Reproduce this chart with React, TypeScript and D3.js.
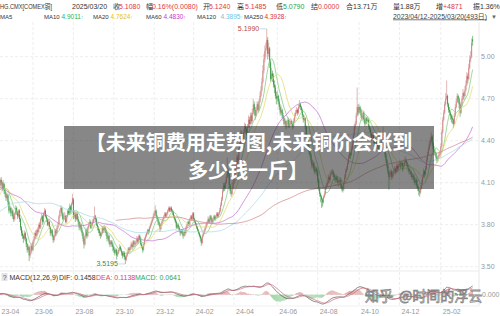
import React from "react";
import * as d3 from "d3";

const W = 500;
const H = 316;

// daily closes before the first visible candle (warm-up for MA / MACD)
const historyCloses = [
  3.43, 3.41, 3.40, 3.42, 3.38, 3.40, 3.43, 3.44, 3.42, 3.45, 3.47, 3.50, 3.48, 3.44, 3.46, 3.40, 3.38, 3.39,
  3.42, 3.36, 3.55, 3.62, 3.65, 3.60, 3.68, 3.80, 3.86, 3.78, 3.74, 3.70, 3.64, 3.62, 3.64, 3.66, 3.62, 3.58, 3.60, 3.70, 3.78,
  3.82, 3.86, 3.84, 3.78, 3.82, 3.86, 3.88, 3.90, 3.84, 3.80, 3.76, 3.80, 3.78, 3.82, 3.80, 3.78, 3.82, 3.84, 3.82, 3.80, 3.81,
  3.74, 3.70, 3.78, 3.82, 3.90, 3.98, 4.02, 4.06, 4.14, 4.20, 4.24, 4.22, 4.28, 4.25, 4.22, 4.24, 4.28, 4.26, 4.20, 4.18,
  4.12, 4.08, 4.04, 4.06, 4.04, 4.02, 4.08, 4.06, 4.10, 4.04, 4.00, 4.02, 4.06, 4.10, 4.12, 4.08, 4.02, 4.00, 4.06,
  4.10, 4.05, 4.08, 4.04, 4.02, 4.00, 4.02, 3.96, 3.94, 3.88, 3.86, 3.90, 3.92, 3.96, 3.90, 3.94, 4.00, 4.04, 4.08, 4.10, 4.08, 4.06, 4.10,
  4.06, 4.02, 3.98, 4.04, 4.00, 4.05,
];

// visible candles, one array per month: [open, high, low, close]
const apr23 = [[4.05,4.10,4.03,4.08],[4.08,4.13,4.06,4.12],[4.12,4.14,4.08,4.10],[4.10,4.11,4.04,4.06],[4.06,4.12,4.05,4.10],[4.09,4.10,4.02,4.04],[4.04,4.06,4.00,4.02],[4.02,4.03,3.97,3.99],[3.99,4.03,3.98,4.01],[4.01,4.02,3.94,3.96],[3.96,3.97,3.88,3.90],[3.90,3.94,3.89,3.92],[3.92,3.93,3.86,3.88]];
const may23 = [[3.88,3.92,3.86,3.90],[3.90,3.91,3.84,3.86],[3.86,3.88,3.82,3.84],[3.84,3.89,3.83,3.88],[3.88,3.94,3.87,3.92],[3.92,3.93,3.87,3.89],[3.89,3.90,3.84,3.86],[3.86,3.91,3.85,3.90],[3.90,3.91,3.82,3.84],[3.84,3.85,3.76,3.78],[3.78,3.79,3.72,3.74],[3.74,3.76,3.70,3.72],[3.72,3.73,3.67,3.70],[3.70,3.76,3.69,3.74],[3.74,3.75,3.68,3.70],[3.70,3.71,3.64,3.66],[3.66,3.67,3.60,3.62],[3.62,3.66,3.61,3.64],[3.64,3.65,3.54,3.58],[3.58,3.62,3.56,3.60],[3.60,3.66,3.59,3.65],[3.65,3.67,3.61,3.62]];
const jun23 = [[3.62,3.69,3.61,3.68],[3.68,3.72,3.66,3.70],[3.70,3.75,3.69,3.74],[3.74,3.76,3.70,3.72],[3.72,3.77,3.71,3.76],[3.76,3.78,3.73,3.75],[3.75,3.81,3.74,3.80],[3.80,3.82,3.77,3.78],[3.78,3.85,3.77,3.84],[3.84,3.88,3.83,3.86],[3.86,3.87,3.80,3.82],[3.82,3.89,3.81,3.88],[3.88,3.92,3.86,3.90],[3.90,3.91,3.85,3.86],[3.86,3.87,3.82,3.84],[3.84,3.85,3.79,3.80],[3.80,3.84,3.79,3.82],[3.82,3.83,3.77,3.78],[3.78,3.79,3.72,3.74],[3.74,3.77,3.73,3.76],[3.76,3.77,3.71,3.72],[3.72,3.73,3.67,3.69]];
const jul23 = [[3.69,3.73,3.68,3.72],[3.72,3.77,3.71,3.76],[3.76,3.77,3.72,3.74],[3.74,3.79,3.73,3.78],[3.78,3.82,3.77,3.80],[3.80,3.87,3.79,3.86],[3.86,3.91,3.85,3.90],[3.90,3.94,3.89,3.92],[3.92,3.93,3.86,3.88],[3.88,3.89,3.83,3.84],[3.84,3.88,3.83,3.86],[3.86,3.89,3.84,3.86],[3.86,3.87,3.81,3.82],[3.82,3.87,3.81,3.86],[3.86,3.91,3.85,3.90],[3.90,3.92,3.87,3.88],[3.88,3.95,3.87,3.93],[3.93,3.94,3.88,3.90],[3.90,3.96,3.89,3.95],[3.95,4.02,3.94,3.99]];
const aug23 = [[3.98,3.99,3.84,3.86],[3.86,3.90,3.85,3.88],[3.88,3.89,3.82,3.84],[3.84,3.89,3.83,3.88],[3.88,3.89,3.83,3.84],[3.84,3.86,3.80,3.82],[3.82,3.83,3.76,3.78],[3.78,3.82,3.77,3.80],[3.80,3.81,3.75,3.76],[3.76,3.78,3.72,3.74],[3.74,3.75,3.68,3.70],[3.70,3.71,3.63,3.66],[3.66,3.73,3.65,3.72],[3.72,3.78,3.71,3.76],[3.76,3.77,3.70,3.72],[3.72,3.79,3.71,3.78],[3.78,3.82,3.77,3.80],[3.80,3.84,3.79,3.82],[3.82,3.83,3.77,3.78],[3.78,3.81,3.77,3.80],[3.80,3.84,3.79,3.82],[3.82,3.86,3.81,3.84],[3.84,3.93,3.83,3.86]];
const sep23 = [[3.86,3.87,3.82,3.84],[3.84,3.85,3.79,3.80],[3.80,3.81,3.76,3.78],[3.78,3.79,3.74,3.76],[3.76,3.77,3.72,3.74],[3.74,3.75,3.70,3.72],[3.72,3.75,3.71,3.74],[3.74,3.79,3.73,3.78],[3.78,3.79,3.74,3.76],[3.76,3.80,3.75,3.78],[3.78,3.79,3.74,3.76],[3.76,3.77,3.72,3.74],[3.74,3.75,3.68,3.70],[3.70,3.73,3.69,3.72],[3.72,3.73,3.66,3.68],[3.68,3.69,3.64,3.66],[3.66,3.69,3.65,3.68],[3.68,3.69,3.64,3.66],[3.66,3.67,3.61,3.64]];
const oct23 = [[3.64,3.65,3.60,3.62],[3.62,3.63,3.58,3.60],[3.60,3.63,3.59,3.62],[3.62,3.63,3.55,3.58],[3.58,3.61,3.57,3.60],[3.60,3.63,3.59,3.62],[3.62,3.66,3.61,3.64],[3.64,3.65,3.61,3.62],[3.62,3.63,3.58,3.60],[3.60,3.61,3.56,3.58],[3.58,3.61,3.57,3.60],[3.60,3.61,3.55,3.57],[3.57,3.58,3.5195,3.55],[3.55,3.59,3.54,3.58],[3.58,3.61,3.57,3.60],[3.60,3.64,3.59,3.63],[3.63,3.64,3.60,3.62],[3.62,3.65,3.61,3.64],[3.64,3.68,3.63,3.66],[3.66,3.67,3.62,3.64],[3.64,3.69,3.63,3.68],[3.68,3.69,3.64,3.66]];
const nov23 = [[3.66,3.68,3.64,3.66],[3.66,3.69,3.65,3.68],[3.68,3.72,3.67,3.70],[3.70,3.71,3.66,3.68],[3.68,3.73,3.67,3.72],[3.72,3.73,3.69,3.70],[3.70,3.71,3.65,3.66],[3.66,3.67,3.63,3.64],[3.64,3.65,3.60,3.62],[3.62,3.67,3.61,3.66],[3.66,3.71,3.65,3.70],[3.70,3.73,3.69,3.72],[3.72,3.75,3.71,3.74],[3.74,3.77,3.73,3.76],[3.76,3.77,3.73,3.75],[3.75,3.79,3.74,3.78],[3.78,3.81,3.77,3.80],[3.80,3.83,3.79,3.82],[3.82,3.85,3.81,3.84],[3.84,3.88,3.83,3.86]];
const dec23 = [[3.86,3.90,3.85,3.88],[3.88,3.94,3.87,3.90],[3.90,3.91,3.85,3.86],[3.86,3.87,3.83,3.84],[3.84,3.85,3.80,3.82],[3.82,3.83,3.79,3.80],[3.80,3.81,3.75,3.77],[3.77,3.81,3.76,3.80],[3.80,3.83,3.79,3.82],[3.82,3.85,3.81,3.84],[3.84,3.87,3.83,3.86],[3.86,3.89,3.85,3.88],[3.88,3.89,3.85,3.86],[3.86,3.89,3.85,3.88],[3.88,3.91,3.87,3.90],[3.90,3.93,3.89,3.92],[3.92,3.93,3.89,3.90],[3.90,3.93,3.89,3.92],[3.92,3.93,3.89,3.90],[3.90,3.91,3.87,3.89]];
const jan24 = [[3.89,3.90,3.85,3.86],[3.86,3.87,3.83,3.84],[3.84,3.85,3.81,3.82],[3.82,3.83,3.77,3.78],[3.78,3.81,3.77,3.80],[3.80,3.81,3.77,3.78],[3.78,3.79,3.75,3.76],[3.76,3.77,3.72,3.74],[3.74,3.77,3.73,3.76],[3.76,3.77,3.73,3.74],[3.74,3.75,3.70,3.72],[3.72,3.76,3.71,3.75],[3.75,3.76,3.72,3.74],[3.74,3.79,3.73,3.78],[3.78,3.81,3.77,3.80],[3.80,3.83,3.79,3.82],[3.82,3.83,3.79,3.80],[3.80,3.85,3.79,3.84],[3.84,3.87,3.83,3.86],[3.86,3.87,3.83,3.84],[3.84,3.89,3.83,3.88]];
const feb24 = [[3.88,3.89,3.83,3.84],[3.84,3.85,3.81,3.82],[3.82,3.83,3.79,3.80],[3.80,3.81,3.77,3.78],[3.78,3.79,3.75,3.76],[3.76,3.77,3.73,3.74],[3.74,3.75,3.71,3.72],[3.72,3.73,3.68,3.70],[3.70,3.71,3.65,3.67],[3.67,3.73,3.66,3.72],[3.72,3.75,3.71,3.74],[3.74,3.77,3.73,3.76],[3.76,3.79,3.75,3.78],[3.78,3.81,3.77,3.80],[3.80,3.83,3.79,3.82],[3.82,3.86,3.81,3.84],[3.84,3.85,3.81,3.82],[3.82,3.87,3.81,3.86],[3.86,3.87,3.83,3.84],[3.84,3.85,3.81,3.82],[3.82,3.85,3.81,3.84]];
const mar24 = [[3.84,3.87,3.83,3.86],[3.86,3.87,3.83,3.84],[3.84,3.87,3.83,3.86],[3.86,3.89,3.85,3.88],[3.88,3.89,3.85,3.86],[3.86,3.89,3.85,3.88],[3.88,3.92,3.87,3.90],[3.90,3.96,3.89,3.94],[3.94,4.00,3.93,3.98],[3.98,4.06,3.97,4.04],[4.04,4.10,4.03,4.08],[4.08,4.10,4.04,4.06],[4.06,4.12,4.05,4.10],[4.10,4.16,4.09,4.14],[4.14,4.28,4.13,4.18],[4.18,4.20,4.14,4.16],[4.16,4.17,4.06,4.08],[4.08,4.09,4.02,4.04],[4.04,4.06,4.00,4.02],[4.02,4.08,4.01,4.06],[4.06,4.12,4.05,4.10]];
const apr24 = [[4.10,4.16,4.09,4.14],[4.14,4.20,4.13,4.18],[4.18,4.24,4.17,4.22],[4.22,4.30,4.21,4.28],[4.28,4.30,4.23,4.26],[4.26,4.36,4.25,4.34],[4.34,4.40,4.33,4.38],[4.38,4.48,4.37,4.45],[4.45,4.47,4.38,4.40],[4.40,4.44,4.38,4.42],[4.42,4.48,4.41,4.46],[4.46,4.53,4.45,4.50],[4.50,4.52,4.45,4.48],[4.48,4.50,4.41,4.44],[4.44,4.52,4.43,4.50],[4.50,4.58,4.49,4.55],[4.55,4.57,4.49,4.52],[4.52,4.60,4.51,4.58],[4.58,4.60,4.52,4.54],[4.54,4.63,4.53,4.60],[4.60,4.70,4.59,4.66],[4.66,4.68,4.58,4.62]];
const may24 = [[4.62,4.64,4.55,4.58],[4.58,4.64,4.57,4.62],[4.62,4.68,4.61,4.66],[4.66,4.68,4.60,4.62],[4.62,4.70,4.61,4.68],[4.68,4.75,4.67,4.72],[4.72,4.79,4.71,4.76],[4.76,4.85,4.75,4.82],[4.82,4.94,4.81,4.90],[4.90,5.02,4.88,4.98],[4.98,5.08,4.96,5.04],[5.04,5.10,5.00,5.06],[5.06,5.199,5.05,5.12],[5.12,5.14,4.98,5.02],[5.02,5.10,5.00,5.06],[5.06,5.07,4.92,4.96],[4.96,4.98,4.82,4.84],[4.84,4.92,4.83,4.88],[4.88,4.90,4.82,4.86],[4.86,4.88,4.78,4.80],[4.80,4.83,4.74,4.78],[4.78,4.80,4.70,4.72],[4.72,4.75,4.66,4.70]];
const jun24 = [[4.70,4.76,4.68,4.72],[4.72,4.73,4.66,4.68],[4.68,4.70,4.62,4.64],[4.64,4.66,4.58,4.60],[4.60,4.65,4.59,4.62],[4.62,4.63,4.56,4.58],[4.58,4.60,4.54,4.56],[4.56,4.57,4.50,4.52],[4.52,4.56,4.51,4.54],[4.54,4.55,4.48,4.50],[4.50,4.54,4.49,4.52],[4.52,4.57,4.51,4.55],[4.55,4.56,4.49,4.50],[4.50,4.54,4.49,4.52],[4.52,4.56,4.51,4.54],[4.54,4.55,4.50,4.52],[4.52,4.53,4.48,4.50],[4.50,4.56,4.49,4.54],[4.54,4.60,4.53,4.58],[4.58,4.62,4.57,4.60]];
const jul24 = [[4.60,4.64,4.59,4.62],[4.62,4.63,4.58,4.60],[4.60,4.66,4.59,4.64],[4.64,4.69,4.63,4.66],[4.66,4.67,4.62,4.64],[4.64,4.65,4.60,4.62],[4.62,4.63,4.56,4.58],[4.58,4.59,4.53,4.55],[4.55,4.58,4.54,4.56],[4.56,4.57,4.48,4.50],[4.50,4.51,4.42,4.44],[4.44,4.45,4.38,4.40],[4.40,4.41,4.34,4.36],[4.36,4.37,4.30,4.32],[4.32,4.34,4.28,4.30],[4.30,4.31,4.24,4.26],[4.26,4.27,4.20,4.22],[4.22,4.26,4.21,4.24],[4.24,4.25,4.18,4.20],[4.20,4.22,4.16,4.18],[4.18,4.22,4.17,4.20],[4.20,4.21,4.15,4.18]];
const aug24 = [[4.18,4.19,4.10,4.12],[4.12,4.13,4.04,4.06],[4.06,4.07,4.00,4.02],[4.02,4.03,3.96,4.00],[4.00,4.01,3.92,3.98],[3.98,3.99,3.93,3.96],[3.96,4.01,3.95,4.00],[4.00,4.04,3.99,4.02],[4.02,4.08,4.01,4.06],[4.06,4.10,4.05,4.08],[4.08,4.12,4.07,4.10],[4.10,4.16,4.09,4.14],[4.14,4.15,4.10,4.12],[4.12,4.18,4.11,4.16],[4.16,4.19,4.15,4.17],[4.17,4.20,4.16,4.18],[4.18,4.19,4.14,4.16],[4.16,4.17,4.12,4.14],[4.14,4.15,4.10,4.12],[4.12,4.16,4.11,4.14],[4.14,4.15,4.10,4.12],[4.12,4.13,4.08,4.10]];
const sep24 = [[4.10,4.12,4.07,4.10],[4.10,4.14,4.09,4.12],[4.12,4.13,4.06,4.08],[4.08,4.09,4.04,4.06],[4.06,4.08,4.03,4.05],[4.05,4.11,4.04,4.10],[4.10,4.16,4.09,4.14],[4.14,4.20,4.13,4.18],[4.18,4.22,4.17,4.20],[4.20,4.26,4.19,4.24],[4.24,4.30,4.23,4.28],[4.28,4.33,4.27,4.31],[4.31,4.32,4.27,4.30],[4.30,4.36,4.29,4.34],[4.34,4.40,4.33,4.38],[4.38,4.46,4.37,4.44],[4.44,4.52,4.43,4.50],[4.50,4.54,4.48,4.52],[4.52,4.60,4.51,4.58],[4.58,4.78,4.57,4.64],[4.64,4.66,4.58,4.60]];
const oct24 = [[4.60,4.66,4.59,4.64],[4.64,4.65,4.60,4.62],[4.62,4.63,4.56,4.58],[4.58,4.59,4.54,4.56],[4.56,4.62,4.55,4.60],[4.60,4.61,4.53,4.55],[4.55,4.56,4.50,4.52],[4.52,4.58,4.51,4.56],[4.56,4.57,4.52,4.54],[4.54,4.57,4.53,4.55],[4.55,4.56,4.48,4.50],[4.50,4.51,4.46,4.48],[4.48,4.49,4.43,4.45],[4.45,4.46,4.40,4.42],[4.42,4.46,4.41,4.44],[4.44,4.45,4.38,4.40],[4.40,4.41,4.36,4.38],[4.38,4.42,4.37,4.40],[4.40,4.41,4.36,4.38],[4.38,4.39,4.34,4.36],[4.36,4.37,4.32,4.34],[4.34,4.38,4.33,4.36],[4.36,4.37,4.33,4.35]];
const nov24 = [[4.35,4.40,4.34,4.38],[4.38,4.44,4.37,4.42],[4.42,4.50,4.41,4.45],[4.45,4.46,4.34,4.36],[4.36,4.37,4.28,4.30],[4.30,4.31,4.24,4.26],[4.26,4.27,4.20,4.22],[4.22,4.23,4.16,4.18],[4.18,4.19,4.05,4.14],[4.14,4.18,4.12,4.16],[4.16,4.20,4.15,4.18],[4.18,4.19,4.12,4.14],[4.14,4.18,4.13,4.16],[4.16,4.20,4.15,4.18],[4.18,4.22,4.17,4.20],[4.20,4.21,4.16,4.18],[4.18,4.24,4.17,4.22],[4.22,4.23,4.18,4.20],[4.20,4.24,4.19,4.22]];
const dec24 = [[4.22,4.26,4.21,4.24],[4.24,4.25,4.20,4.22],[4.22,4.26,4.21,4.24],[4.24,4.25,4.18,4.20],[4.20,4.24,4.19,4.22],[4.22,4.27,4.21,4.25],[4.25,4.29,4.24,4.26],[4.26,4.27,4.22,4.24],[4.24,4.25,4.20,4.22],[4.22,4.23,4.18,4.20],[4.20,4.21,4.16,4.18],[4.18,4.20,4.16,4.18],[4.18,4.19,4.14,4.16],[4.16,4.17,4.12,4.14],[4.14,4.17,4.13,4.15],[4.15,4.16,4.10,4.12],[4.12,4.13,4.08,4.10],[4.10,4.14,4.09,4.12],[4.12,4.13,4.06,4.08],[4.08,4.09,4.04,4.06],[4.06,4.07,4.01,4.04]];
const jan25 = [[4.04,4.06,4.00,4.03],[4.03,4.08,4.02,4.06],[4.06,4.12,4.05,4.10],[4.10,4.16,4.09,4.14],[4.14,4.20,4.13,4.18],[4.18,4.19,4.14,4.16],[4.16,4.22,4.15,4.20],[4.20,4.28,4.19,4.26],[4.26,4.32,4.25,4.30],[4.30,4.36,4.29,4.34],[4.34,4.40,4.33,4.38],[4.38,4.42,4.36,4.40],[4.40,4.46,4.39,4.43],[4.43,4.44,4.36,4.38],[4.38,4.39,4.32,4.34],[4.34,4.36,4.30,4.32],[4.32,4.34,4.29,4.31],[4.31,4.32,4.26,4.28],[4.28,4.29,4.24,4.26],[4.26,4.30,4.25,4.28],[4.28,4.32,4.27,4.30],[4.30,4.33,4.29,4.31]];
const feb25 = [[4.31,4.38,4.28,4.36],[4.36,4.48,4.35,4.46],[4.46,4.57,4.45,4.55],[4.55,4.62,4.54,4.60],[4.60,4.68,4.59,4.66],[4.66,4.74,4.65,4.70],[4.70,4.83,4.69,4.72],[4.72,4.73,4.64,4.66],[4.66,4.67,4.60,4.62],[4.62,4.64,4.58,4.60],[4.60,4.61,4.55,4.58],[4.58,4.59,4.53,4.56],[4.56,4.58,4.52,4.55],[4.55,4.56,4.49,4.52],[4.52,4.60,4.51,4.58],[4.58,4.66,4.57,4.64],[4.64,4.70,4.63,4.68],[4.68,4.74,4.67,4.72],[4.72,4.73,4.67,4.70],[4.70,4.71,4.63,4.66]];
const mar25 = [[4.66,4.67,4.57,4.60],[4.60,4.68,4.59,4.66],[4.66,4.72,4.65,4.70],[4.70,4.77,4.69,4.74],[4.74,4.75,4.69,4.72],[4.72,4.79,4.71,4.76],[4.76,4.83,4.75,4.80],[4.80,4.89,4.79,4.86],[4.86,4.88,4.81,4.84],[4.84,4.95,4.83,4.92],[4.92,5.01,4.91,4.98],[4.98,5.04,4.96,5.00],[5.00,5.13,4.99,5.10],[5.124,5.1485,5.079,5.108]];

const monthData = [apr23, may23, jun23, jul23, aug23, sep23, oct23, nov23, dec23, jan24, feb24, mar24,
  apr24, may24, jun24, jul24, aug24, sep24, oct24, nov24, dec24, jan25, feb25, mar25];
const monthLabels = ["23-04", "23-05", "23-06", "23-07", "23-08", "23-09", "23-10", "23-11", "23-12", "24-01", "24-02", "24-03",
  "24-04", "24-05", "24-06", "24-07", "24-08", "24-09", "24-10", "24-11", "24-12", "25-01", "25-02", "25-03"];
const priceTicks = [5.0, 4.7, 4.4, 4.1, 3.8, 3.5];
const maPeriods = [10, 20, 60, 120, 250];
const maColors = ["#86cf86", "#e6dc72", "#c77ad2", "#a8dcec", "#d48c8c"];

const header1 = [
  { t: "2025/03/20", x: 72, c: "#333" },
  { t: "收", x: 113, c: "#333" }, { t: "5.1080", x: 119, c: "#e0393e" },
  { t: "幅", x: 146, c: "#333" }, { t: "0.16%(0.0080)", x: 152, c: "#e0393e" },
  { t: "开", x: 203, c: "#333" }, { t: "5.1240", x: 209, c: "#e0393e" },
  { t: "高", x: 237, c: "#333" }, { t: "5.1485", x: 245, c: "#e0393e" },
  { t: "低", x: 276, c: "#333" }, { t: "5.0790", x: 283, c: "#2e9e44" },
  { t: "结", x: 311, c: "#333" }, { t: "0.0000", x: 318, c: "#e0393e" },
  { t: "合13.71万", x: 346, c: "#333" },
  { t: "量1.88万", x: 393, c: "#333" },
  { t: "增", x: 436, c: "#333" }, { t: "+4871", x: 443, c: "#e0393e" },
  { t: "振1.36%", x: 473, c: "#333" },
];
const header2Names = [
  { t: "MA5", x: 0 },
  { t: "MA10", x: 44 },
  { t: "MA20", x: 93 },
  { t: "MA60", x: 146 },
  { t: "MA120", x: 197 },
  { t: "MA250", x: 244 },
];
const header2Values = [
  { t: "4.9011", x: 61.5, c: "#2fb24a" },
  { t: "4.7624", x: 110.5, c: "#e0c21c" },
  { t: "4.4830", x: 163.5, c: "#c43cc8" },
  { t: "4.3895", x: 220.5, c: "#6cc4e4" },
  { t: "4.3928", x: 264.5, c: "#d8343a" },
];

function ema(values: number[], n: number) {
  const k = 2 / (n + 1);
  const out: number[] = [];
  let prev = values[0];
  values.forEach((v, i) => {
    prev = i === 0 ? v : v * k + prev * (1 - k);
    out.push(prev);
  });
  return out;
}

const FONT = "'Liberation Sans', 'Noto Sans CJK SC', sans-serif";
const CJK = "'Noto Sans CJK SC', sans-serif";

export default function App() {
  const candles = monthData.flat() as number[][];
  const n = candles.length;
  const offset = historyCloses.length;
  const allCloses = historyCloses.concat(candles.map((c) => c[3]));

  const monthStarts: number[] = [];
  let acc = 0;
  monthData.forEach((m) => { monthStarts.push(acc); acc += m.length; });

  const x = d3.scaleLinear().domain([0, n - 1]).range([-0.67, 472.6]);
  const y = d3.scaleLinear().domain([3.5, 5.0]).range([266.7, 56.7]);

  const mas = maPeriods.map((p) =>
    candles.map((_, i) => {
      const j = i + offset;
      if (j < p - 1) return null;
      return d3.mean(allCloses.slice(j - p + 1, j + 1)) as number;
    })
  );
  const maLine = d3.line<number | null>()
    .defined((d) => d !== null)
    .x((_, i) => x(i))
    .y((d) => y(d as number));

  const e12 = ema(allCloses, 12);
  const e26 = ema(allCloses, 26);
  const difAll = e12.map((v, i) => v - e26[i]);
  const deaAll = ema(difAll, 9);
  const dif = difAll.slice(offset);
  const dea = deaAll.slice(offset);
  const hist = dif.map((v, i) => 2 * (v - dea[i]));
  const ext = d3.extent([...dif, ...dea, ...hist]) as [number, number];
  const my = d3.scaleLinear().domain(ext).range([304, 283]);
  const mLine = d3.line<number>().x((_, i) => x(i)).y((d) => my(d));

  const hiIdx = d3.maxIndex(candles, (c) => c[1]);
  const loIdx = d3.minIndex(candles, (c) => c[2]);

  const tickIdx = monthStarts.filter((_, k) => k % 2 === 0);
  const tickLab = monthLabels.filter((_, k) => k % 2 === 0);

  return (
    <svg width={W} height={H} style={{ position: "absolute", left: 0, top: 0, background: "#fff" }}>
      <defs>
        <clipPath id="pc"><rect x={0} y={22} width={479} height={249} /></clipPath>
        <clipPath id="mc"><rect x={0} y={281} width={479} height={25} /></clipPath>
      </defs>
      <rect width={W} height={H} fill="#fff" />

      {/* grid */}
      {tickIdx.map((i, k) => (
        <line key={"vg" + k} x1={x(i)} x2={x(i)} y1={22} y2={306} stroke="#e8e8e8" strokeWidth={0.8} strokeDasharray="3,2" />
      ))}
      {priceTicks.map((p) => (
        <line key={"hg" + p} x1={0} x2={479} y1={y(p)} y2={y(p)} stroke="#e8e8e8" strokeWidth={0.8} strokeDasharray="3,2" />
      ))}
      <line x1={0} x2={479} y1={271} y2={271} stroke="#e6e6e6" strokeWidth={0.8} />
      <line x1={0} x2={479} y1={306} y2={306} stroke="#ececec" strokeWidth={0.8} />
      <line x1={479} x2={479} y1={22} y2={306} stroke="#e2e2e2" strokeWidth={0.8} />
      <line x1={0} x2={479} y1={my(0)} y2={my(0)} stroke="#e8e8e8" strokeWidth={0.8} strokeDasharray="3,2" />

      {/* candles */}
      <g clipPath="url(#pc)">
        {candles.map((c, i) => {
          const up = c[3] >= c[0];
          const col = up ? "#d08484" : "#3f9a48";
          const top = y(Math.max(c[0], c[3]));
          const bot = y(Math.min(c[0], c[3]));
          return (
            <g key={"c" + i}>
              <line x1={x(i)} x2={x(i)} y1={y(c[1])} y2={y(c[2])} stroke={col} strokeWidth={0.6} />
              <rect x={x(i) - 0.45} y={top} width={0.9} height={Math.max(0.7, bot - top)} fill={col} />
            </g>
          );
        })}
        {mas.map((m, k) => (
          <path key={"ma" + k} d={maLine(m) || ""} fill="none" stroke={maColors[k]} strokeWidth={0.8} />
        ))}
      </g>

      {/* extreme labels */}
      <line x1={x(hiIdx) - 7} x2={x(hiIdx)} y1={y(candles[hiIdx][1])} y2={y(candles[hiIdx][1])} stroke="#9cc" strokeWidth={0.6} />
      <text x={x(hiIdx) - 7.5} y={y(candles[hiIdx][1]) + 2.5} fontSize={7} fontFamily={FONT} fill="#b94a48" textAnchor="end">
        {candles[hiIdx][1].toFixed(4)}
      </text>
      <line x1={x(loIdx) - 7} x2={x(loIdx)} y1={y(candles[loIdx][2])} y2={y(candles[loIdx][2])} stroke="#9cc" strokeWidth={0.6} />
      <text x={x(loIdx) - 7.5} y={y(candles[loIdx][2]) + 2.5} fontSize={7} fontFamily={FONT} fill="#2f8f4a" textAnchor="end">
        {candles[loIdx][2].toFixed(4)}
      </text>

      {/* MACD */}
      <g clipPath="url(#mc)">
        {hist.map((h, i) => (
          <line key={"h" + i} x1={x(i)} x2={x(i)} y1={my(0)} y2={my(h)} stroke={h >= 0 ? "#e3aaaa" : "#9fd6a4"} strokeWidth={0.96} />
        ))}
        <path d={mLine(dif) || ""} fill="none" stroke="#555" strokeWidth={0.7} />
        <path d={mLine(dea) || ""} fill="none" stroke="#d0647a" strokeWidth={0.7} />
      </g>

      {/* right axis */}
      {priceTicks.map((p) => (
        <text key={"pt" + p} x={481} y={y(p) + 2.5} fontSize={7} fontFamily={FONT} fill="#999">{p.toFixed(2)}</text>
      ))}
      <text x={482} y={my(0) + 2.5} fontSize={7} fontFamily={FONT} fill="#999">0.000</text>

      {/* x axis */}
      {tickIdx.map((i, k) => (
        <text key={"xt" + k} x={Math.max(1.5, x(i) + 2)} y={313.5} fontSize={7} fontFamily={FONT} fill="#999">{tickLab[k]}</text>
      ))}

      {/* header */}
      <text x={0} y={8.5} fontSize={7} fontFamily={FONT} fill="#333" textLength={52} lengthAdjust="spacingAndGlyphs">HG.CMX[COMEX铜]</text>
      {header1.map((s, k) => (
        <text key={"h1" + k} x={s.x} y={8.5} fontSize={7} fontFamily={FONT} fill={s.c}>{s.t}</text>
      ))}
      {header2Names.map((s, k) => (
        <text key={"h2n" + k} x={s.x} y={18.5} fontSize={6} fontFamily={FONT} fill="#333">{s.t}</text>
      ))}
      {header2Values.map((s, k) => (
        <text key={"h2v" + k} x={s.x} y={18.5} fontSize={6.5} fontFamily={FONT} fill={s.c}>
          {s.t}<tspan fontSize={4.6}>↑</tspan>
        </text>
      ))}
      <text x={393} y={18.5} fontSize={7} fontFamily={FONT} fill="#444" textDecoration="underline" textLength={94} lengthAdjust="spacingAndGlyphs">2023/04/12-2025/03/20(493日)</text>
      <text x={491} y={18.5} fontSize={6} fontFamily={FONT} fill="#666">▼</text>

      {/* MACD header */}
      <rect x={1.5} y={273} width={6} height={8} fill="#e4e4e4" />
      <text x={2.8} y={279.8} fontSize={7} fontFamily={FONT} fill="#555">?</text>
      <text x={9.5} y={279.8} fontSize={7} fontFamily={FONT} fill="#333">MACD(12,26,9)</text>
      <text x={59} y={279.8} fontSize={7} fontFamily={FONT} fill="#333">DIF: 0.1458</text>
      <text x={96} y={279.8} fontSize={7} fontFamily={FONT} fill="#d0456a">DEA: 0.1138</text>
      <text x={135} y={279.8} fontSize={7} fontFamily={FONT} fill="#2fa84a">MACD: 0.0641</text>

      {/* title overlay */}
      <rect x={64} y={126} width={370} height={63} fill="rgba(55,55,55,0.6)" />
      <text x={249} y={149.5} fontSize={20} fontWeight="bold" fontFamily={CJK} fill="#fff" textAnchor="middle">【未来铜费用走势图,未来铜价会涨到</text>
      <text x={248} y={177.5} fontSize={20} fontWeight="bold" fontFamily={CJK} fill="#fff" textAnchor="middle">多少钱一斤】</text>

      {/* watermark */}
      <text x={365} y={301} fontSize={14} fontFamily={CJK} fill="rgba(255,255,255,0.7)" stroke="rgba(95,95,95,0.75)" strokeWidth={0.8}>知乎</text>
      <text x={399} y={301} fontSize={14} fontFamily={CJK} fill="rgba(255,255,255,0.7)" stroke="rgba(95,95,95,0.75)" strokeWidth={0.8}>@时间的浮云</text>
    </svg>
  );
}
